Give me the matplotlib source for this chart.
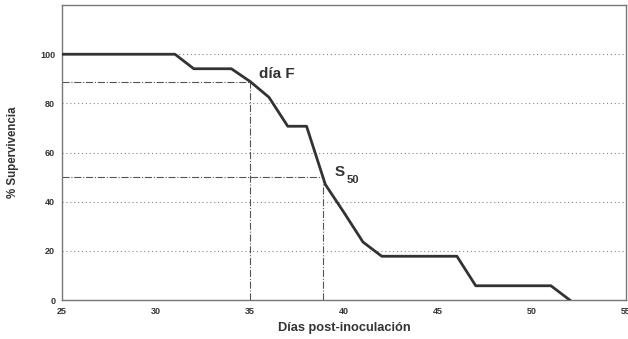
import matplotlib.pyplot as plt

plt.rcParams['font.family'] = ['Liberation Sans', 'DejaVu Sans']
plt.rcParams['font.weight'] = 'bold'

dias = [25, 31, 32, 34, 35, 36, 37, 38, 39, 40, 41, 42, 46, 47, 51, 52]
supervivencia = [100, 100, 94.1, 94.1, 88.9, 82.5, 70.7, 70.7, 47, 35.5, 23.6, 17.8, 17.8, 5.8, 5.8, 0]

dia_f = 35
valor_f = 88.9
s50_dia = 38.9
s50_valor = 50

xticks = [25, 30, 35, 40, 45, 50, 55]
yticks = [0, 20, 40, 60, 80, 100]

fig = plt.figure(figsize=(6.28, 3.39), dpi=100)
ax = fig.add_axes([0.099, 0.115, 0.898, 0.87])

for y in yticks[1:]:
    ax.axhline(y, color='#888888', lw=0.8, ls=(0, (1, 2.5)), zorder=1)

# lineas de referencia (dia F y S50)
ax.plot([25, dia_f], [valor_f, valor_f], color='#555555', lw=0.8, ls='-.', zorder=2)
ax.plot([dia_f, dia_f], [0, valor_f], color='#555555', lw=0.8, ls='-.', zorder=2)
ax.plot([25, s50_dia], [s50_valor, s50_valor], color='#555555', lw=0.8, ls='-.', zorder=2)
ax.plot([s50_dia, s50_dia], [0, s50_valor], color='#555555', lw=0.8, ls='-.', zorder=2)

ax.plot(dias, supervivencia, color='#333333', lw=2, zorder=3)

ax.text(35.45, 92, 'día F', fontsize=11, fontweight='bold', color='#333333', va='center')
ax.text(39.5, 52, 'S', fontsize=11, fontweight='bold', color='#333333', va='center')
ax.text(40.15, 49, '50', fontsize=8, fontweight='bold', color='#333333', va='center')

ax.set_xlim(25, 55)
ax.set_ylim(0, 120)
ax.set_xticks(xticks)
ax.set_yticks(yticks)
ax.tick_params(labelsize=6.5, length=0, pad=5, colors='#333333')
ax.set_xlabel('Días post-inoculación', fontsize=9.2, fontweight='bold', color='#333333', labelpad=4)
ax.set_ylabel('% Supervivencia', fontsize=8.3, fontweight='bold', color='#333333', labelpad=15)

for s in ax.spines.values():
    s.set_color('#777777')
    s.set_linewidth(1)

fig.savefig('out.png', dpi=100)
